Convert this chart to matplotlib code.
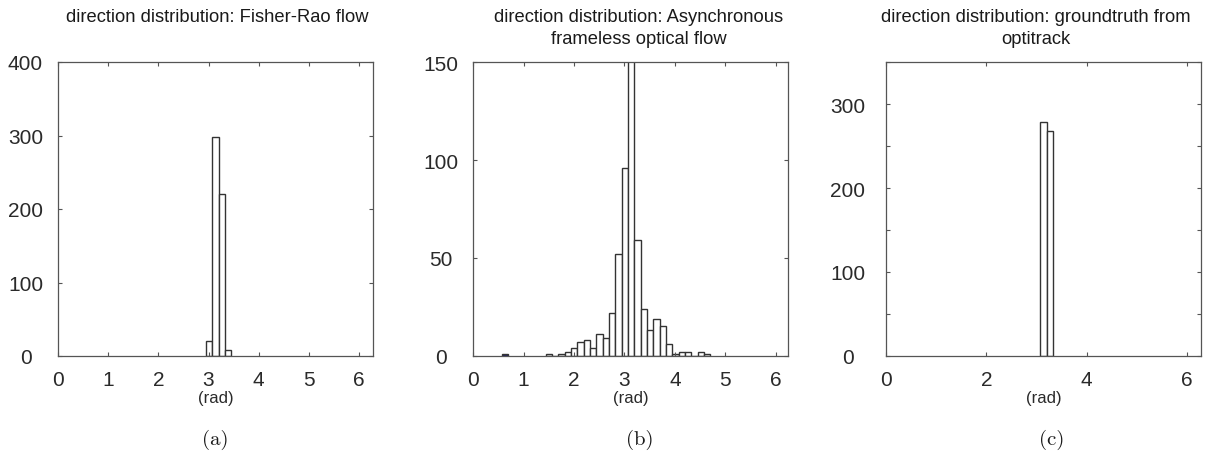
import numpy as np
import matplotlib
matplotlib.use("Agg")
import matplotlib.pyplot as plt

# histogram of flow directions, 50 bins over [0, 2*pi]
bin_width = 2 * np.pi / 50

fisher_rao_start = 2.95
fisher_rao_counts = [20, 298, 220, 8]

async_start = 1.435
async_counts = [1, 0, 1, 2, 4, 7, 8, 4, 11, 9, 22, 52, 96, 185, 59,
                24, 13, 19, 15, 6, 1, 2, 2, 0, 2, 1]
async_outlier_start = 0.56
async_outlier_count = 1

optitrack_start = 3.08
optitrack_counts = [279, 268]

titles = [
    "direction distribution: Fisher-Rao flow",
    "direction distribution: Asynchronous\nframeless optical flow",
    "direction distribution: groundtruth from\noptitrack",
]
captions = ["(a)", "(b)", "(c)"]

W, H = 1205, 452
fig = plt.figure(figsize=(W / 100, H / 100), dpi=100)
plt.rcParams["font.family"] = ["Liberation Sans", "DejaVu Sans"]

def px_axes(left, right, top, bottom):
    return fig.add_axes([left / W, 1 - bottom / H, (right - left) / W, (bottom - top) / H])

ax_a = px_axes(58.3, 373, 63, 357)
ax_b = px_axes(473.3, 787.7, 63.3, 356.7)
ax_c = px_axes(886, 1201, 63.3, 356.7)


def draw_hist(ax, start, counts, color="white"):
    lefts = start + bin_width * np.arange(len(counts))
    ax.bar(lefts, counts, width=bin_width, align="edge", color=color,
           edgecolor="#333333", linewidth=1.0)


draw_hist(ax_a, fisher_rao_start, fisher_rao_counts)
draw_hist(ax_b, async_start, async_counts)
draw_hist(ax_b, async_outlier_start, [async_outlier_count], color="#1c1c6e")
draw_hist(ax_c, optitrack_start, optitrack_counts)

ax_a.set_xlim(0, 2 * np.pi)
ax_a.set_ylim(0, 400)
ax_a.set_xticks(range(0, 7))
ax_a.set_yticks(range(0, 401, 100))

ax_b.set_xlim(0, 6.24)
ax_b.set_ylim(0, 150)
ax_b.set_xticks(range(0, 7))
ax_b.set_yticks([0, 50, 100, 150])

ax_c.set_xlim(0, 2 * np.pi)
ax_c.set_ylim(0, 350)
ax_c.set_xticks([0, 2, 4, 6])
ax_c.set_yticks(range(0, 351, 50))
ax_c.set_yticklabels([str(v) if v % 100 == 0 else "" for v in range(0, 351, 50)])

ypads = [23.6, 23.6, 27.5]
for ax, ypad in zip([ax_a, ax_b, ax_c], ypads):
    for s in ax.spines.values():
        s.set_color("#555555")
        s.set_linewidth(0.9)
    ax.tick_params(direction="in", length=3, width=0.8, color="#555555",
                   top=True, right=True, labelsize=15, labelcolor="#2a2a2a")
    ax.tick_params(axis="x", pad=10)
    ax.tick_params(axis="y", pad=ypad)
    for lab in ax.get_yticklabels():
        lab.set_horizontalalignment("center")
    ax.set_xlabel("(rad)", fontsize=12, color="#2a2a2a", labelpad=1)

title_x = [217.5, 639, 1035.5]
cap_x = [215, 640, 1052]
for t, c, tx, cx in zip(titles, captions, title_x, cap_x):
    fig.text(tx / W, 1 - 9 / H, t, ha="center", va="top", fontsize=13.2,
             color="#1a1a1a", linespacing=1.4)
    fig.text(cx / W, 1 - 440 / H, c, ha="center", va="center", fontsize=15,
             family="cmr10", color="#1a1a1a")

fig.savefig("out.png", dpi=100)
